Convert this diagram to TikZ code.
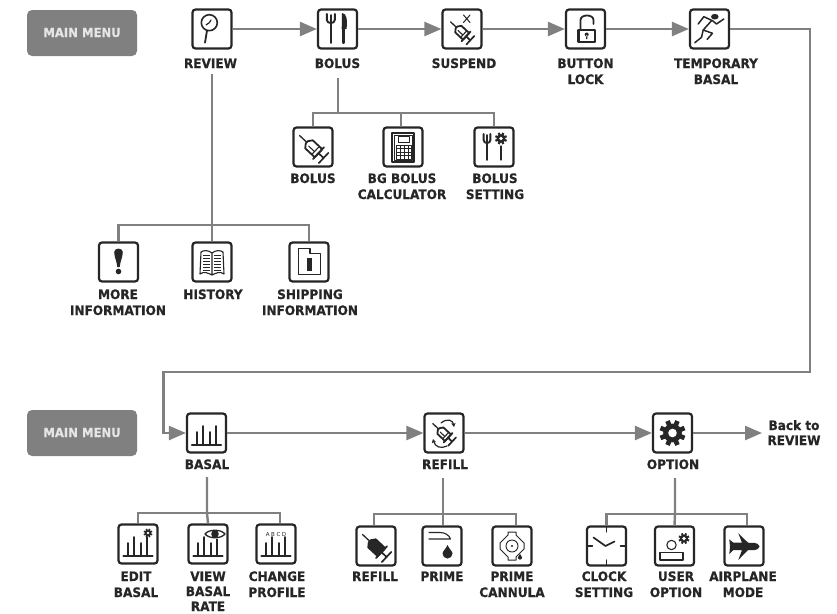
\documentclass[tikz,border=0pt]{standalone}
\usepackage{fontspec}
\setmainfont{DejaVu Sans}
\newfontfamily\lblfont[FakeStretch=0.93,FakeBold=0.6]{DejaVu Sans Bold}
\newfontfamily\tinyfont[LetterSpace=30]{DejaVu Sans}
\usetikzlibrary{arrows.meta}
\definecolor{conn}{HTML}{808080}
\definecolor{ink}{HTML}{262626}
\tikzset{
  x=1pt,y=-1pt,
  iconbox/.style={draw=ink,line width=2.2pt,rounded corners=3pt,minimum size=39pt,inner sep=0pt,fill=white},
  lbl/.style={font=\lblfont\fontsize{13}{16}\selectfont,text=ink,align=center,anchor=base,inner sep=0pt},
  menubox/.style={fill=conn,rounded corners=5pt,minimum width=110pt,minimum height=46pt,inner sep=0pt},
  menutxt/.style={font=\lblfont\fontsize{12.5}{14}\selectfont,text=white!90!black,anchor=base,inner sep=0pt},
  conline/.style={draw=conn,line width=2.4pt},
  conarrow/.style={conline,-{Triangle[length=17pt,width=14pt]}},
  glyph/.style={draw=ink,line width=1.5pt,line cap=round,line join=round},
  thin glyph/.style={draw=ink,line width=.9pt,line join=round},
}
% syringe: centre, scale, fill of the barrel
\newcommand\icSyr[4]{\begin{scope}[shift={(#1,#2)},rotate=-43,scale=#3]
  \draw[glyph,line width=1.3pt] (-20,0)--(-10,0);
  \draw[glyph,line width=1.7pt] (6,0)--(13,0) (13,-7)--(13,7);
  \draw[glyph,line width=1.8pt,fill=#4] (-10,-1.5)--(-7,-5.5)--(6,-5.5)--(6,5.5)--(-7,5.5)--(-10,1.5)--cycle;
  \draw[glyph,line width=1.8pt] (6,-8)--(6,8);
  \draw[glyph,line width=1.1pt] (-6,1.5)--(2,1.5) (2,-5)--(2,5);
\end{scope}}
\newcommand\icGear[3]{\begin{scope}[shift={(#1,#2)}]
  \fill[ink] (0,0) circle ({0.72*#3});
  \foreach \a in {0,45,...,315} \draw[draw=ink,line width={0.36*#3}] (0,0)--(\a+22.5:#3);
  \fill[white] (0,0) circle ({0.33*#3});
\end{scope}}
\newcommand\icChart{%
  \draw[glyph,line width=2.1pt] (-14.5,12)--(14.5,12);
  \draw[glyph,line width=2pt] (-10,12)--(-10,-1) (-4,12)--(-4,-7) (3,12)--(3,-1) (9,12)--(9,-7);}
\newcommand\icDrop[3]{\fill[ink] (#1,{#2-1.7*#3}) .. controls ({#1+.35*#3},{#2-.9*#3}) and (#1+#3,{#2-.4*#3}) .. (#1+#3,#2) arc[start angle=0,end angle=180,radius=#3] .. controls (#1-#3,{#2-.4*#3}) and ({#1-.35*#3},{#2-.9*#3}) .. cycle;}
\newcommand\icFork[4]{% x, top, bottom, half width
  \draw[glyph,line width=1.9pt] (#1,#2+1)--(#1,#3);
  \draw[glyph,line width=1.9pt] (#1-#4,#2) -- (#1-#4,#2+6) .. controls (#1-#4,#2+10) and (#1+#4,#2+10) .. (#1+#4,#2+6) -- (#1+#4,#2);}
\newcommand\ic[2]{\begin{scope}[shift={(#1.center)}]#2\end{scope}}
\begin{document}
\begin{tikzpicture}
\useasboundingbox (0,0) rectangle (837,613);
% ---------- nodes: top row
\node[menubox] (menuA) at (82,33) {};
\node[menutxt] (menuAt) at (82,37) {MAIN MENU};
\node[iconbox] (review) at (212,29) {};
\node[iconbox] (bolus) at (337.5,29) {};
\node[iconbox] (suspend) at (462,29) {};
\node[iconbox] (lock) at (585.5,29) {};
\node[iconbox] (temp) at (709.5,29) {};
\node[lbl] (reviewL) at (210.5,68) {REVIEW};
\node[lbl] (bolusL) at (337.5,68) {BOLUS};
\node[lbl] (suspendL) at (464,68) {SUSPEND};
\node[lbl] (lockL) at (585.5,68) {BUTTON};
\node[lbl] (lockLb) at (585.5,84) {LOCK};
\node[lbl] (tempL) at (716,68) {TEMPORARY};
\node[lbl] (tempLb) at (716,84) {BASAL};
% bolus children
\node[iconbox] (subbolus) at (313,147) {};
\node[iconbox] (bgcalc) at (403,147) {};
\node[iconbox] (bolset) at (494,147) {};
\node[lbl] (subbolusL) at (313,183) {BOLUS};
\node[lbl] (bgcalcL) at (402,183) {BG BOLUS};
\node[lbl] (bgcalcLb) at (402,199) {CALCULATOR};
\node[lbl] (bolsetL) at (495,183) {BOLUS};
\node[lbl] (bolsetLb) at (495,199) {SETTING};
% review children
\node[iconbox] (more) at (118.5,262) {};
\node[iconbox] (history) at (212,262) {};
\node[iconbox] (shipping) at (309,262) {};
\node[lbl] (moreL) at (118,299) {MORE};
\node[lbl] (moreLb) at (118,315) {INFORMATION};
\node[lbl] (historyL) at (213,299) {HISTORY};
\node[lbl] (shippingL) at (310,299) {SHIPPING};
\node[lbl] (shippingLb) at (310,315) {INFORMATION};
% ---------- second row
\node[menubox] (menuB) at (82,433) {};
\node[menutxt] (menuBt) at (82,437) {MAIN MENU};
\node[iconbox] (basal) at (206.5,433) {};
\node[iconbox] (refill) at (444,433) {};
\node[iconbox] (option) at (672.5,433) {};
\node[lbl] (basalL) at (207,469) {BASAL};
\node[lbl] (refillL) at (445,469) {REFILL};
\node[lbl] (optionL) at (673,469) {OPTION};
\node[lbl] (backL) at (794,430) {Back to};
\node[lbl] (backLb) at (794,445) {REVIEW};
% basal children
\node[iconbox] (edit) at (138,544) {};
\node[iconbox] (view) at (208,544) {};
\node[iconbox] (change) at (276,544) {};
\node[lbl] (editL) at (136,581) {EDIT};
\node[lbl] (editLb) at (136,597) {BASAL};
\node[lbl] (viewL) at (208,581) {VIEW};
\node[lbl] (viewLb) at (208,596) {BASAL};
\node[lbl] (viewLc) at (208,611) {RATE};
\node[lbl] (changeL) at (277,581) {CHANGE};
\node[lbl] (changeLb) at (277,597) {PROFILE};
% refill children
\node[iconbox] (subrefill) at (376,546) {};
\node[iconbox] (prime) at (442,546) {};
\node[iconbox] (cannula) at (512,546) {};
\node[lbl] (subrefillL) at (375,581) {REFILL};
\node[lbl] (primeL) at (442,581) {PRIME};
\node[lbl] (cannulaL) at (512,581) {PRIME};
\node[lbl] (cannulaLb) at (512,597) {CANNULA};
% option children
\node[iconbox] (clock) at (606.5,546) {};
\node[iconbox] (user) at (674.5,546) {};
\node[iconbox] (plane) at (744,546) {};
\node[lbl] (clockL) at (604,581) {CLOCK};
\node[lbl] (clockLb) at (604,597) {SETTING};
\node[lbl] (userL) at (676,581) {USER};
\node[lbl] (userLb) at (676,597) {OPTION};
\node[lbl] (planeL) at (743,581) {AIRPLANE};
\node[lbl] (planeLb) at (743,597) {MODE};
% ---------- junction points
\coordinate (revS) at (212,74);   \coordinate (revJ) at (212,225);
\coordinate (bolS) at (338,78);   \coordinate (bolJ) at (338,113);
\coordinate (basS) at (207,477);  \coordinate (basJ) at (207,513);
\coordinate (refS) at (443,478);  \coordinate (refJ) at (443,514);
\coordinate (optS) at (675,478);  \coordinate (optJ) at (675,514);
\coordinate (wrapA) at (810,29);  \coordinate (wrapB) at (810,372);
\coordinate (wrapC) at (163.5,372); \coordinate (wrapD) at (163.5,433);
\coordinate (back) at (762,433);
% ---------- connectors
\draw[conarrow] (review) -- (bolus);
\draw[conarrow] (bolus) -- (suspend);
\draw[conarrow] (suspend) -- (lock);
\draw[conarrow] (lock) -- (temp);
\draw[conarrow] (temp.east) -- (wrapA) -- (wrapB) -- (wrapC) -- (wrapD) -- (basal.west);
\draw[conarrow] (basal) -- (refill);
\draw[conarrow] (refill) -- (option);
\draw[conarrow] (option) -- (back);
\draw[conline] (revS) -- (revJ) -- (history.north);
\draw[conline] (more.north) |- (revJ) -| (shipping.north);
\draw[conline] (bolS) -- (bolJ);
\draw[conline] (subbolus.north) |- (bolJ) -| (bolset.north);
\draw[conline] ([xshift=-2pt]bgcalc.north) -- ([xshift=-2pt,yshift=14pt]bgcalc.north);
\draw[conline] (basS) -- (basJ) -- (view.north);
\draw[conline] (edit.north) |- (basJ) -| ([xshift=4pt]change.north);
\draw[conline] (refS) -- (refJ) -- ([xshift=1pt]prime.north);
\draw[conline] ([xshift=-2pt]subrefill.north) |- (refJ) -| ([xshift=4pt]cannula.north);
\draw[conline] (optS) -- (optJ) -- (user.north);
\draw[conline] (clock.north) |- (optJ) -| ([xshift=3pt]plane.north);
% ---------- icons
\ic{review}{
  \draw[glyph,line width=1.6pt] (-2.7,-6.3) circle (8);
  \draw[glyph,line width=1.8pt] (-5,1.5)--(-7,13.7);
  \draw[glyph,line width=1.2pt] (-6,-4)--(-2.7,-6.3)--(-1,-9);
}
\ic{bolus}{
  \icFork{-6.7}{-15}{14}{4}
  \draw[glyph,line width=2.2pt] (6,-1)--(6,14);
  \fill[ink] (4.5,-16) .. controls (9.5,-16) and (10,-8) .. (9,0) -- (4.2,0) -- cycle;
}
\ic{suspend}{
  \icSyr{0.5}{4}{.82}{white}
  \draw[glyph,line width=1pt] (1.5,-14)--(8,-6.5) (8,-14)--(1.5,-6.5);
}
\ic{lock}{
  \draw[glyph,line width=1.8pt] (-5,1)--(-5,-9) .. controls (-5,-15) and (8,-15) .. (8,-9) -- (8,-5);
  \draw[glyph,line width=2.1pt] (-7,1) rectangle (9.5,13);
  \fill[ink] (1.2,5.5) circle (2) (.5,6) rectangle (1.9,10);
}
\ic{temp}{
  \fill[ink] (5.3,-12.3) ellipse (3.8 and 2.8);
  \draw[glyph] (-11.3,-5)--(-5.7,-12.3)--(3,-8.3)--(7,-5)--(14.3,-10);
  \draw[glyph] (2,-8.3)--(-6.3,1)--(3,4.3)--(-2.3,10.3);
  \draw[glyph] (-6.3,1)--(-8,8.3)--(-14.7,13.7);
}
\ic{subbolus}{\icSyr{1.1}{2.1}{1}{white}}
\ic{bgcalc}{
  \draw[thin glyph,line width=1.2pt] (-11,-14) rectangle (11,15);
  \draw[thin glyph,line width=1pt] (-9,-12) rectangle (9,13);
  \draw[thin glyph,line width=1pt] (-5,-10.5) rectangle (6,-5);
  \draw[thin glyph,line width=.8pt] (-7,-2) rectangle (8,12);
  \foreach \y in {1.5,5,8.5} \draw[thin glyph,line width=.8pt] (-7,\y)--(8,\y);
  \foreach \x in {-3,1,5} \draw[thin glyph,line width=.8pt] (\x,-2)--(\x,12);
}
\ic{bolset}{
  \icFork{-7}{-13}{13}{3.4}
  \icGear{7}{-8.5}{6}
  \draw[glyph,line width=1.1pt] (7,-1)--(7,13);
}
\ic{more}{
  \fill[ink] (-4.3,-10) .. controls (-4.3,-14.5) and (4.3,-14.5) .. (4.3,-10) .. controls (4.3,-5) and (1.5,0) .. (1.2,5) -- (-1.2,5) .. controls (-1.5,0) and (-4.3,-5) .. cycle;
  \fill[ink] (0,9.5) circle (2.8);
}
\ic{history}{
  \draw[thin glyph,line width=1.1pt] (0,-9) .. controls (-4,-12) and (-8,-12) .. (-11,-10) -- (-12,12) .. controls (-8,9) and (-4,11) .. (0,13) .. controls (4,11) and (8,9) .. (12,12) -- (11,-10) .. controls (8,-12) and (4,-12) .. (0,-9) -- (0,13);
  \foreach \y in {-7,-4,-1,2,5,8} \draw[thin glyph,line width=.9pt] (-9,\y)--(-2,\y) (2,\y)--(9,\y);
}
\ic{shipping}{
  \draw[thin glyph,line width=1.3pt] (-10.5,-13.5)--(1,-13.5)--(1,-8.5)--(11.5,-8.5)--(11.5,12.5)--(-10.5,12.5)--cycle;
  \fill[ink] (-2,-4.5) rectangle (3,8.5);
}
\ic{basal}{\icChart}
\ic{refill}{
  \icSyr{0.5}{1.5}{.8}{white}
  \draw[glyph,line width=1.2pt,-{Stealth[length=4pt,width=4.5pt]}] (-3,-10) .. controls (3,-15) and (9,-13) .. (10,-6);
  \draw[glyph,line width=1.2pt,-{Stealth[length=4pt,width=4.5pt]}] (3,13) .. controls (-3,16) and (-9,14) .. (-11,6);
}
\ic{option}{\icGear{0}{0}{13}}
\ic{edit}{\icChart \icGear{10}{-11}{4.5}}
\ic{view}{
  \icChart
  \fill[white] (7,-10) ellipse (10.5 and 5);
  \draw[glyph,line width=1.3pt,fill=white] (-3,-10) .. controls (1,-15) and (13,-15) .. (17,-10) .. controls (13,-5) and (1,-5) .. (-3,-10) -- cycle;
  \fill[ink] (7,-10) circle (3.8);
}
\ic{change}{
  \icChart
  \node[inner sep=0pt,font=\tinyfont\fontsize{5.5}{6}\selectfont,text=ink] (abcd) at (0,-10) {ABCD};
}
\ic{subrefill}{\icSyr{1.1}{2.1}{1}{ink}}
\ic{prime}{
  \draw[thin glyph,line width=1.1pt] (-13.5,-13.5)--(-2,-13.5) .. controls (3,-13.5) and (7,-11) .. (8.5,-7) -- (-13.5,-7);
  \icDrop{5.5}{7.5}{5}
}
\ic{cannula}{
  \draw[thin glyph,line width=1pt] (-4,-14)--(4,-14)--(4,-11)--(12,-3)--(12,3)--(4,11)--(4,14)--(-4,14)--(-4,11)--(-12,3)--(-12,-3)--(-4,-11)--cycle;
  \draw[thin glyph,line width=.9pt] (0,0) circle (6);
  \fill[ink] (0,0) circle (1.1);
  \icDrop{8}{11.5}{2.1}
}
\ic{clock}{
  \draw[glyph,line width=1.2pt] (0,-19)--(0,-14) (0,14)--(0,19) (-19,0)--(-14,0) (14,0)--(19,0);
  \draw[glyph,line width=1.7pt] (-13,-8.5)--(-1,0)--(8,-4.5);
}
\ic{user}{
  \draw[thin glyph,line width=1.1pt] (-3,-1) circle (4.7);
  \draw[thin glyph,line width=1.1pt] (-14.5,6.5) rectangle (8.5,14);
  \icGear{9.5}{-7.5}{5.5}
}
\ic{plane}{
  \fill[ink] (15.5,.5) .. controls (15,-2) and (13,-2.5) .. (11,-3) -- (4,-3.3)--(-5.7,-12.7)--(-2,-3.3)--(-10.7,-3.3)--(-14.7,-6.7)--(-14,.7)--(-14.7,8)--(-10.7,4)--(-2,4)--(-5.7,14)--(4,4)--(11,4) .. controls (13,3.5) and (15,3) .. cycle;
}
\end{tikzpicture}
\end{document}
